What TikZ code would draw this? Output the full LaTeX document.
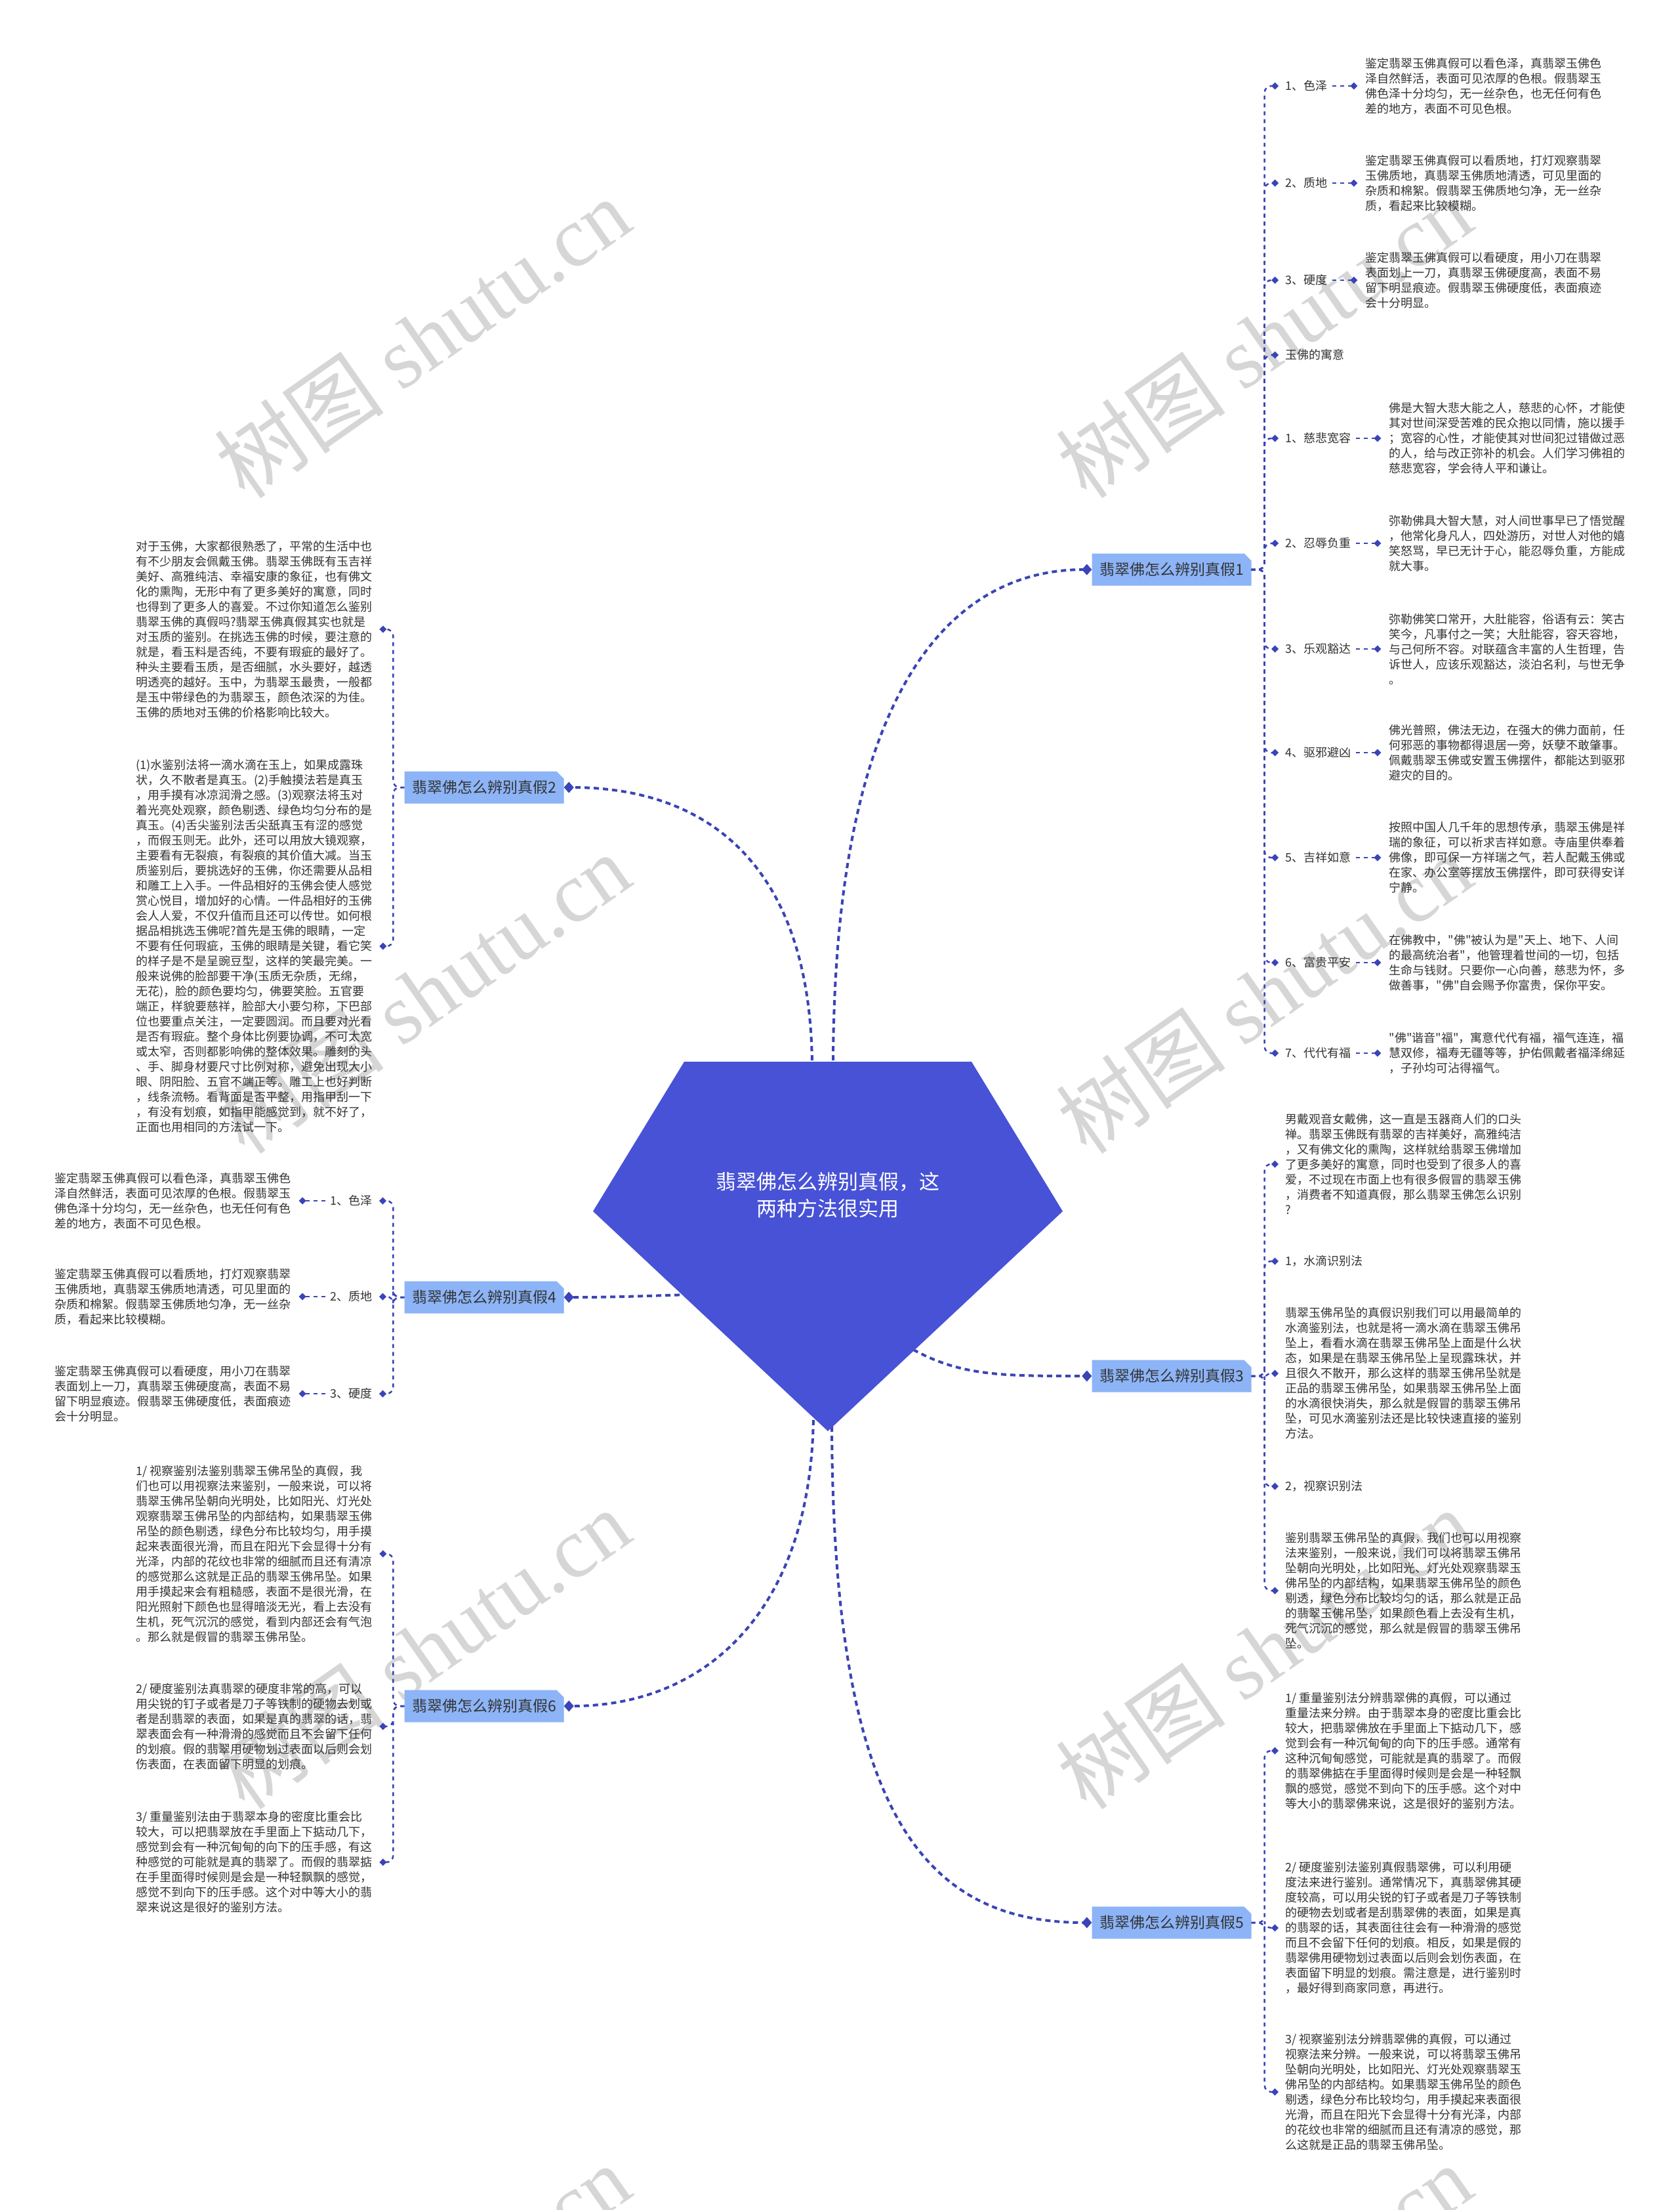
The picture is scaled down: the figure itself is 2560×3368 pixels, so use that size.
\documentclass[tikz,border=0pt]{standalone}
\usepackage{fontspec}
\setmainfont{Noto Sans CJK SC}[Ligatures=TeXOff]
\newfontfamily\wmlatin{Liberation Serif}
\usetikzlibrary{arrows.meta,positioning}
\definecolor{linec}{HTML}{3A44B6}
\definecolor{centerc}{HTML}{4752D6}
\definecolor{branchc}{HTML}{8CB4F7}
\definecolor{textc}{HTML}{333333}
\definecolor{wmc}{HTML}{D6D6D6}
\newcommand\mybr[4]{%
 \fill[branchc] ({#2-121.5},{#3-24.5}) -- ({#2+110.5},{#3-24.5}) -- ({#2+121.5},{#3-13.5}) -- ({#2+121.5},{#3+24.5}) -- ({#2-121.5},{#3+24.5}) -- cycle;
 \node[brtext] (#1) at (#2,#3) {#4};}
\newcommand\txtSeZe{鉴定翡翠玉佛真假可以看色泽，真翡翠玉佛色\\泽自然鲜活，表面可见浓厚的色根。假翡翠玉\\佛色泽十分均匀，无一丝杂色，也无任何有色\\差的地方，表面不可见色根。}
\newcommand\txtZhiDi{鉴定翡翠玉佛真假可以看质地，打灯观察翡翠\\玉佛质地，真翡翠玉佛质地清透，可见里面的\\杂质和棉絮。假翡翠玉佛质地匀净，无一丝杂\\质，看起来比较模糊。}
\newcommand\txtYingDu{鉴定翡翠玉佛真假可以看硬度，用小刀在翡翠\\表面划上一刀，真翡翠玉佛硬度高，表面不易\\留下明显痕迹。假翡翠玉佛硬度低，表面痕迹\\会十分明显。}
\begin{document}
\begin{tikzpicture}[x=1pt,y=-1pt,
 txt/.style={font=\fontsize{18}{23}\selectfont,text=textc,align=left,inner sep=0pt,anchor=west},
 txtl/.style={txt,anchor=east},
 brtext/.style={font=\fontsize{23}{28}\selectfont,text=textc,inner sep=0pt,minimum width=243pt,minimum height=49pt},
 mainc/.style={draw=linec,line width=4pt,dash pattern=on 8pt off 6pt,-{Diamond[length=15pt,width=17pt]}},
 brk/.style={draw=linec,line width=2.5pt,dash pattern=on 6pt off 6pt,rounded corners=10pt,-{Diamond[length=11pt,width=11pt]}},
 ld/.style={draw=linec,line width=2.5pt,dash pattern=on 6pt off 6pt,shorten <=8pt,shorten >=12pt,-{Diamond[length=11pt,width=11pt]}},
 wm/.style={text=wmc,font=\fontsize{130}{130}\selectfont,rotate=35,inner sep=0pt}
]
\useasboundingbox (0,0) rectangle (2560,3368);
\fill[white] (0,0) rectangle (2560,3368);
% watermarks
\begin{scope}
\clip (0,0) rectangle (2560,3368);
\foreach \yy [count=\i] in {515,1514,2513,3512}{
 \node[wm] (wmL\i) at (644,\yy) {树图 {\wmlatin shutu.cn}};
 \node[wm] (wmR\i) at (1927,\yy) {树图 {\wmlatin shutu.cn}};
}
\end{scope}
% branch nodes
\mybr{b1}{1786}{868}{翡翠佛怎么辨别真假1}
\mybr{b2}{738}{1200}{翡翠佛怎么辨别真假2}
\mybr{b4}{738}{1977}{翡翠佛怎么辨别真假4}
\mybr{b3}{1786}{2097}{翡翠佛怎么辨别真假3}
\mybr{b6}{738}{2600}{翡翠佛怎么辨别真假6}
\mybr{b5}{1786}{2930}{翡翠佛怎么辨别真假5}
% main connectors
\coordinate (r1) at (1270,1630);
\coordinate (r2) at (1238,1630);
\coordinate (r3) at (1380,2050);
\coordinate (r4) at (1050,1973);
\coordinate (r5) at (1268,2160);
\coordinate (r6) at (1240,2150);
\draw[mainc] (r1) .. controls (1270,1050) and (1450,868) .. (b1.west);
\draw[mainc] (r2) .. controls (1238,1320) and (1080,1200) .. (b2.east);
\draw[mainc] (r3) .. controls (1460,2097) and (1520,2097) .. (b3.west);
\draw[mainc] (r4) .. controls (980,1975) and (940,1977) .. (b4.east);
\draw[mainc] (r5) .. controls (1268,2750) and (1400,2930) .. (b5.west);
\draw[mainc] (r6) .. controls (1240,2450) and (1080,2600) .. (b6.east);
% central pentagon
\fill[centerc] (1043,1618) -- (1481,1618) -- (1620,1846) -- (1262,2181) -- (904,1846) -- cycle;
\node[font=\fontsize{31}{41}\selectfont,text=white,align=center,inner sep=0pt] (root) at (1262,1821) {翡翠佛怎么辨别真假，这\\两种方法很实用};
% ---------- branch 1 ----------
\node[txt] (c11) at (1959,131) {1、色泽};
\node[txt,right=58pt of c11] (d11) {\txtSeZe};
\node[txt] (c12) at (1959,279) {2、质地};
\node[txt,right=58pt of c12] (d12) {\txtZhiDi};
\node[txt] (c13) at (1959,427) {3、硬度};
\node[txt,right=58pt of c13] (d13) {\txtYingDu};
\node[txt] (c14) at (1959,541) {玉佛的寓意};
\node[txt] (c15) at (1959,668) {1、慈悲宽容};
\node[txt,right=58pt of c15] (d15) {佛是大智大悲大能之人，慈悲的心怀，才能使\\其对世间深受苦难的民众抱以同情，施以援手\\；宽容的心性，才能使其对世间犯过错做过恶\\的人，给与改正弥补的机会。人们学习佛祖的\\慈悲宽容，学会待人平和谦让。};
\node[txt] (c16) at (1959,828) {2、忍辱负重};
\node[txt,right=58pt of c16] (d16) {弥勒佛具大智大慧，对人间世事早已了悟觉醒\\，他常化身凡人，四处游历，对世人对他的嬉\\笑怒骂，早已无计于心，能忍辱负重，方能成\\就大事。};
\node[txt] (c17) at (1959,989) {3、乐观豁达};
\node[txt,right=58pt of c17] (d17) {弥勒佛笑口常开，大肚能容，俗语有云：笑古\\笑今，凡事付之一笑；大肚能容，容天容地，\\与己何所不容。对联蕴含丰富的人生哲理，告\\诉世人，应该乐观豁达，淡泊名利，与世无争\\。};
\node[txt] (c18) at (1959,1147) {4、驱邪避凶};
\node[txt,right=58pt of c18] (d18) {佛光普照，佛法无边，在强大的佛力面前，任\\何邪恶的事物都得退居一旁，妖孽不敢肇事。\\佩戴翡翠玉佛或安置玉佛摆件，都能达到驱邪\\避灾的目的。};
\node[txt] (c19) at (1959,1307) {5、吉祥如意};
\node[txt,right=58pt of c19] (d19) {按照中国人几千年的思想传承，翡翠玉佛是祥\\瑞的象征，可以祈求吉祥如意。寺庙里供奉着\\佛像，即可保一方祥瑞之气，若人配戴玉佛或\\在家、办公室等摆放玉佛摆件，即可获得安详\\宁静。};
\node[txt] (c110) at (1959,1467) {6、富贵平安};
\node[txt,right=58pt of c110] (d110) {在佛教中，"佛"被认为是"天上、地下、人间\\的最高统治者"，他管理着世间的一切，包括\\生命与钱财。只要你一心向善，慈悲为怀，多\\做善事，"佛"自会赐予你富贵，保你平安。};
\node[txt] (c111) at (1959,1605) {7、代代有福};
\node[txt,right=58pt of c111] (d111) {"佛"谐音"福"，寓意代代有福，福气连连，福\\慧双修，福寿无疆等等，护佑佩戴者福泽绵延\\，子孙均可沾得福气。};
\foreach \c in {c11,c12,c13,c14,c15,c16,c17,c18,c19,c110,c111}
 \draw[brk] (b1.east) -- ++(20,0) |- ([xshift=-10pt]\c.west);
\foreach \c/\d in {c11/d11,c12/d12,c13/d13,c15/d15,c16/d16,c17/d17,c18/d18,c19/d19,c110/d110,c111/d111}
 \draw[ld] (\c.east) -- (\d.west);
% ---------- branch 3 ----------
\node[txt] (c31) at (1959,1774) {男戴观音女戴佛，这一直是玉器商人们的口头\\禅。翡翠玉佛既有翡翠的吉祥美好，高雅纯洁\\，又有佛文化的熏陶，这样就给翡翠玉佛增加\\了更多美好的寓意，同时也受到了很多人的喜\\爱，不过现在市面上也有很多假冒的翡翠玉佛\\，消费者不知道真假，那么翡翠玉佛怎么识别\\?};
\node[txt] (c32) at (1959,1922) {1，水滴识别法};
\node[txt] (c33) at (1959,2093) {翡翠玉佛吊坠的真假识别我们可以用最简单的\\水滴鉴别法，也就是将一滴水滴在翡翠玉佛吊\\坠上，看看水滴在翡翠玉佛吊坠上面是什么状\\态，如果是在翡翠玉佛吊坠上呈现露珠状，并\\且很久不散开，那么这样的翡翠玉佛吊坠就是\\正品的翡翠玉佛吊坠，如果翡翠玉佛吊坠上面\\的水滴很快消失，那么就是假冒的翡翠玉佛吊\\坠，可见水滴鉴别法还是比较快速直接的鉴别\\方法。};
\node[txt] (c34) at (1959,2265) {2，视察识别法};
\node[txt] (c35) at (1959,2424) {鉴别翡翠玉佛吊坠的真假，我们也可以用视察\\法来鉴别，一般来说，我们可以将翡翠玉佛吊\\坠朝向光明处，比如阳光、灯光处观察翡翠玉\\佛吊坠的内部结构，如果翡翠玉佛吊坠的颜色\\剔透，绿色分布比较均匀的话，那么就是正品\\的翡翠玉佛吊坠，如果颜色看上去没有生机，\\死气沉沉的感觉，那么就是假冒的翡翠玉佛吊\\坠。};
\foreach \c in {c31,c32,c33,c34,c35}
 \draw[brk] (b3.east) -- ++(20,0) |- ([xshift=-10pt]\c.west);
% ---------- branch 5 ----------
\node[txt] (c51) at (1959,2668) {1/ 重量鉴别法分辨翡翠佛的真假，可以通过\\重量法来分辨。由于翡翠本身的密度比重会比\\较大，把翡翠佛放在手里面上下掂动几下，感\\觉到会有一种沉甸甸的向下的压手感。通常有\\这种沉甸甸感觉，可能就是真的翡翠了。而假\\的翡翠佛掂在手里面得时候则是会是一种轻飘\\飘的感觉，感觉不到向下的压手感。这个对中\\等大小的翡翠佛来说，这是很好的鉴别方法。};
\node[txt] (c52) at (1959,2938) {2/ 硬度鉴别法鉴别真假翡翠佛，可以利用硬\\度法来进行鉴别。通常情况下，真翡翠佛其硬\\度较高，可以用尖锐的钉子或者是刀子等铁制\\的硬物去划或者是刮翡翠佛的表面，如果是真\\的翡翠的话，其表面往往会有一种滑滑的感觉\\而且不会留下任何的划痕。相反，如果是假的\\翡翠佛用硬物划过表面以后则会划伤表面，在\\表面留下明显的划痕。需注意是，进行鉴别时\\，最好得到商家同意，再进行。};
\node[txt] (c53) at (1959,3188) {3/ 视察鉴别法分辨翡翠佛的真假，可以通过\\视察法来分辨。一般来说，可以将翡翠玉佛吊\\坠朝向光明处，比如阳光、灯光处观察翡翠玉\\佛吊坠的内部结构。如果翡翠玉佛吊坠的颜色\\剔透，绿色分布比较均匀，用手摸起来表面很\\光滑，而且在阳光下会显得十分有光泽，内部\\的花纹也非常的细腻而且还有清凉的感觉，那\\么这就是正品的翡翠玉佛吊坠。};
\foreach \c in {c51,c52,c53}
 \draw[brk] (b5.east) -- ++(20,0) |- ([xshift=-10pt]\c.west);
% ---------- branch 2 ----------
\node[txt] (c21) at (207,959) {对于玉佛，大家都很熟悉了，平常的生活中也\\有不少朋友会佩戴玉佛。翡翠玉佛既有玉吉祥\\美好、高雅纯洁、幸福安康的象征，也有佛文\\化的熏陶，无形中有了更多美好的寓意，同时\\也得到了更多人的喜爱。不过你知道怎么鉴别\\翡翠玉佛的真假吗?翡翠玉佛真假其实也就是\\对玉质的鉴别。在挑选玉佛的时候，要注意的\\就是，看玉料是否纯，不要有瑕疵的最好了。\\种头主要看玉质，是否细腻，水头要好，越透\\明透亮的越好。玉中，为翡翠玉最贵，一般都\\是玉中带绿色的为翡翠玉，颜色浓深的为佳。\\玉佛的质地对玉佛的价格影响比较大。};
\node[txt] (c22) at (207,1442) {(1)水鉴别法将一滴水滴在玉上，如果成露珠\\状，久不散者是真玉。(2)手触摸法若是真玉\\，用手摸有冰凉润滑之感。(3)观察法将玉对\\着光亮处观察，颜色剔透、绿色均匀分布的是\\真玉。(4)舌尖鉴别法舌尖舐真玉有涩的感觉\\，而假玉则无。此外，还可以用放大镜观察，\\主要看有无裂痕，有裂痕的其价值大减。当玉\\质鉴别后，要挑选好的玉佛，你还需要从品相\\和雕工上入手。一件品相好的玉佛会使人感觉\\赏心悦目，增加好的心情。一件品相好的玉佛\\会人人爱，不仅升值而且还可以传世。如何根\\据品相挑选玉佛呢?首先是玉佛的眼睛，一定\\不要有任何瑕疵，玉佛的眼睛是关键，看它笑\\的样子是不是呈豌豆型，这样的笑最完美。一\\般来说佛的脸部要干净(玉质无杂质，无绵，\\无花)，脸的颜色要均匀，佛要笑脸。五官要\\端正，样貌要慈祥，脸部大小要匀称，下巴部\\位也要重点关注，一定要圆润。而且要对光看\\是否有瑕疵。整个身体比例要协调，不可太宽\\或太窄，否则都影响佛的整体效果。雕刻的头\\、手、脚身材要尺寸比例对称，避免出现大小\\眼、阴阳脸、五官不端正等。雕工上也好判断\\，线条流畅。看背面是否平整，用指甲刮一下\\，有没有划痕，如指甲能感觉到，就不好了，\\正面也用相同的方法试一下。};
\foreach \c in {c21,c22}
 \draw[brk] (b2.west) -- ++(-17,0) |- ([xshift=11pt]\c.east);
% ---------- branch 4 ----------
\node[txtl] (c41) at (568,1830) {1、色泽};
\node[txtl,left=60pt of c41] (d41) {\txtSeZe};
\node[txtl] (c42) at (568,1976) {2、质地};
\node[txtl,left=60pt of c42] (d42) {\txtZhiDi};
\node[txtl] (c43) at (568,2124) {3、硬度};
\node[txtl,left=60pt of c43] (d43) {\txtYingDu};
\foreach \c in {c41,c42,c43}
 \draw[brk] (b4.west) -- ++(-17,0) |- ([xshift=10pt]\c.east);
\foreach \c/\d in {c41/d41,c42/d42,c43/d43}
 \draw[ld] (\c.west) -- (\d.east);
% ---------- branch 6 ----------
\node[txt] (c61) at (207,2368) {1/ 视察鉴别法鉴别翡翠玉佛吊坠的真假，我\\们也可以用视察法来鉴别，一般来说，可以将\\翡翠玉佛吊坠朝向光明处，比如阳光、灯光处\\观察翡翠玉佛吊坠的内部结构，如果翡翠玉佛\\吊坠的颜色剔透，绿色分布比较均匀，用手摸\\起来表面很光滑，而且在阳光下会显得十分有\\光泽，内部的花纹也非常的细腻而且还有清凉\\的感觉那么这就是正品的翡翠玉佛吊坠。如果\\用手摸起来会有粗糙感，表面不是很光滑，在\\阳光照射下颜色也显得暗淡无光，看上去没有\\生机，死气沉沉的感觉，看到内部还会有气泡\\。那么就是假冒的翡翠玉佛吊坠。};
\node[txt] (c62) at (207,2631) {2/ 硬度鉴别法真翡翠的硬度非常的高，可以\\用尖锐的钉子或者是刀子等铁制的硬物去划或\\者是刮翡翠的表面，如果是真的翡翠的话，翡\\翠表面会有一种滑滑的感觉而且不会留下任何\\的划痕。假的翡翠用硬物划过表面以后则会划\\伤表面，在表面留下明显的划痕。};
\node[txt] (c63) at (207,2838) {3/ 重量鉴别法由于翡翠本身的密度比重会比\\较大，可以把翡翠放在手里面上下掂动几下，\\感觉到会有一种沉甸甸的向下的压手感，有这\\种感觉的可能就是真的翡翠了。而假的翡翠掂\\在手里面得时候则是会是一种轻飘飘的感觉，\\感觉不到向下的压手感。这个对中等大小的翡\\翠来说这是很好的鉴别方法。};
\foreach \c in {c61,c62,c63}
 \draw[brk] (b6.west) -- ++(-17,0) |- ([xshift=11pt]\c.east);
\end{tikzpicture}
\end{document}
